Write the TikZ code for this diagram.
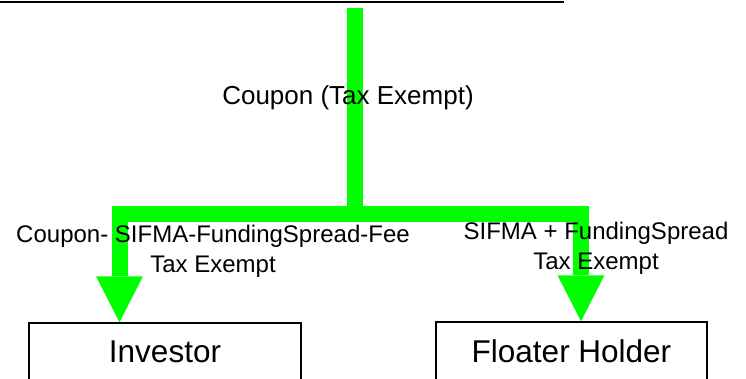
\documentclass[tikz,border=0pt]{standalone}
\usepackage{fontspec}
\setmainfont{Liberation Sans}
\usetikzlibrary{arrows.meta}
\definecolor{flowgreen}{RGB}{0,255,0}

\begin{document}
\begin{tikzpicture}[x=1pt,y=1pt,
	flow/.style={draw=flowgreen, line width=16pt},
	flowarrow/.style={flow, -{Triangle[width=47pt 0 0,length=46pt 0 0,line width=0pt]}},
	party/.style={draw, line width=1.5pt, minimum width=272pt, minimum height=58pt, inner sep=0pt, font=\fontsize{31.5}{36}\selectfont},
	lbl/.style={inner sep=0pt, align=center, anchor=base, font=\fontsize{24}{30}\selectfont}]
			\clip (0,0) rectangle (746,378);
			%%%	Rule on top
			\draw[line width=2.5pt] (0,376) -- (564,376);
			%%%	Parties
			\node[party] (inv) at (165,26) {Investor};
			\node[party, minimum width=271pt] (fh) at (571.5,27) {Floater Holder};
			%%%	Cash flows
			\coordinate (src) at (355,370);
			\coordinate (split) at (355,164);
			\draw[flow] (src) -- (split);
			\draw[flowarrow] (split) -| ([xshift=-45.5pt]inv.north);
			\draw[flowarrow] (split) -| ([xshift=9.5pt]fh.north);
			%%%	Labels (base = last line)
			\node[lbl, font=\fontsize{26}{30}\selectfont] (cpn) at (348,273) {Coupon (Tax Exempt)};
			\node[lbl] (invflow) at (213,106) {Coupon- SIFMA-FundingSpread-Fee\\Tax Exempt};
			\node[lbl] (fhflow) at (596,108.5) {SIFMA + FundingSpread\\Tax Exempt};
		\end{tikzpicture}
\end{document}
